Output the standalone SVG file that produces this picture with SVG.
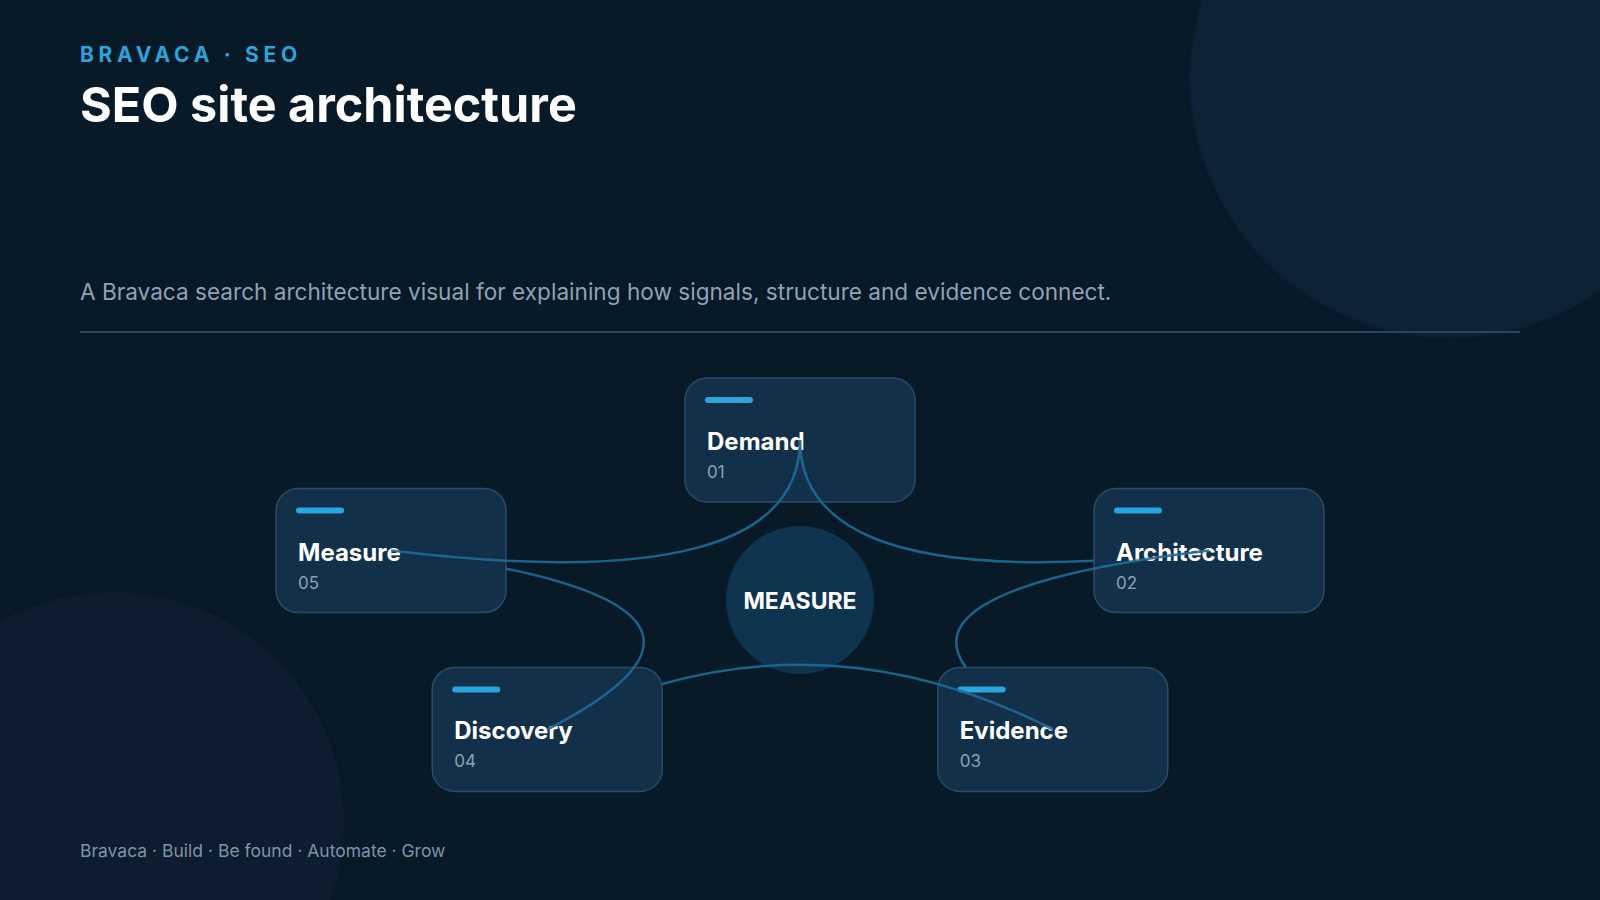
<svg xmlns="http://www.w3.org/2000/svg" width="1600" height="900" viewBox="0 0 1600 900">
  <defs>
    <filter id="soft" x="-10%" y="-10%" width="120%" height="120%">
      <feGaussianBlur stdDeviation="2"/>
    </filter>
    <style>
      .eyebrow { font-family: Inter, "Noto Sans", sans-serif; font-weight: 700; font-size: 21px; letter-spacing: 4.7px; fill: #2ba3dc; }
      .title { font-family: Inter, "Noto Sans", sans-serif; font-weight: 700; font-size: 48.5px; fill: #ffffff; }
      .sub { font-family: Inter, "Noto Sans", sans-serif; font-size: 22.6px; fill: #8ea3b5; }
      .foot { font-family: Inter, "Noto Sans", sans-serif; font-size: 17.5px; fill: #7e95a9; }
      .card { fill: #12304a; stroke: #2b4c67; stroke-width: 1.5; }
      .bar { fill: #29a6e0; }
      .ntitle { font-family: Inter, "Noto Sans", sans-serif; font-weight: 700; font-size: 24px; fill: #ffffff; }
      .nnum { font-family: Inter, "Noto Sans", sans-serif; font-size: 17px; fill: #8ba1b4; }
      .hub { fill: #0f3450; }
      .hubtext { font-family: Inter, "Noto Sans", sans-serif; font-weight: 700; font-size: 23px; fill: #ffffff; }
      .conn { fill: none; stroke: #1f6a97; stroke-width: 2.5; stroke-opacity: 0.9; }
    </style>
  </defs>

  <rect x="0" y="0" width="1600" height="900" fill="#081927"/>
  <circle cx="1450" cy="78" r="260" fill="#0b2135" filter="url(#soft)"/>
  <circle cx="114" cy="822" r="230" fill="#0b1e2d" filter="url(#soft)"/>

  <g id="header">
    <text class="eyebrow" x="80" y="62">BRAVACA · SEO</text>
    <text class="title" x="80" y="122">SEO site architecture</text>
    <text class="sub" x="80" y="300">A Bravaca search architecture visual for explaining how signals, structure and evidence connect.</text>
    <rect x="80" y="331" width="1440" height="2" fill="#27455d"/>
  </g>

  <g id="hub">
    <circle class="hub" cx="800" cy="600" r="74"/>
    <text class="hubtext" x="800" y="608.5" text-anchor="middle">MEASURE</text>
  </g>

  <g id="node-demand">
    <rect class="card" x="685" y="378" width="230" height="124" rx="22"/>
    <rect class="bar" x="705" y="397" width="48" height="6" rx="3"/>
    <text class="ntitle" x="707" y="450">Demand</text>
    <text class="nnum" x="707" y="478">01</text>
  </g>

  <g id="node-architecture">
    <rect class="card" x="1094" y="488.56" width="230" height="124" rx="22"/>
    <rect class="bar" x="1114" y="507.56" width="48" height="6" rx="3"/>
    <text class="ntitle" x="1116" y="560.56">Architecture</text>
    <text class="nnum" x="1116" y="588.56">02</text>
  </g>

  <g id="node-evidence">
    <rect class="card" x="937.75" y="667.44" width="230" height="124" rx="22"/>
    <rect class="bar" x="957.75" y="686.44" width="48" height="6" rx="3"/>
    <text class="ntitle" x="959.75" y="739.44">Evidence</text>
    <text class="nnum" x="959.75" y="767.44">03</text>
  </g>

  <g id="node-discovery">
    <rect class="card" x="432.25" y="667.44" width="230" height="124" rx="22"/>
    <rect class="bar" x="452.25" y="686.44" width="48" height="6" rx="3"/>
    <text class="ntitle" x="454.25" y="739.44">Discovery</text>
    <text class="nnum" x="454.25" y="767.44">04</text>
  </g>

  <g id="node-measure">
    <rect class="card" x="276.04" y="488.56" width="230" height="124" rx="22"/>
    <rect class="bar" x="296.04" y="507.56" width="48" height="6" rx="3"/>
    <text class="ntitle" x="298.04" y="560.56">Measure</text>
    <text class="nnum" x="298.04" y="588.56">05</text>
  </g>

  <g id="connectors">
    <path class="conn" d="M 800 440 Q 800 575.65 1093.96 560.78"/>
    <path class="conn" d="M 1208.96 550.56 Q 906.49 587.13 965.99 667.44"/>
    <path class="conn" d="M 1052.75 729.44 Q 857.5 629.45 662.25 683.94"/>
    <path class="conn" d="M 547.25 729.44 Q 759.1 620.94 506.04 568.66"/>
    <path class="conn" d="M 391.04 550.56 Q 800 600 800 440"/>
  </g>

  <g id="footer">
    <text class="foot" x="80" y="857">Bravaca · Build · Be found · Automate · Grow</text>
  </g>
</svg>
